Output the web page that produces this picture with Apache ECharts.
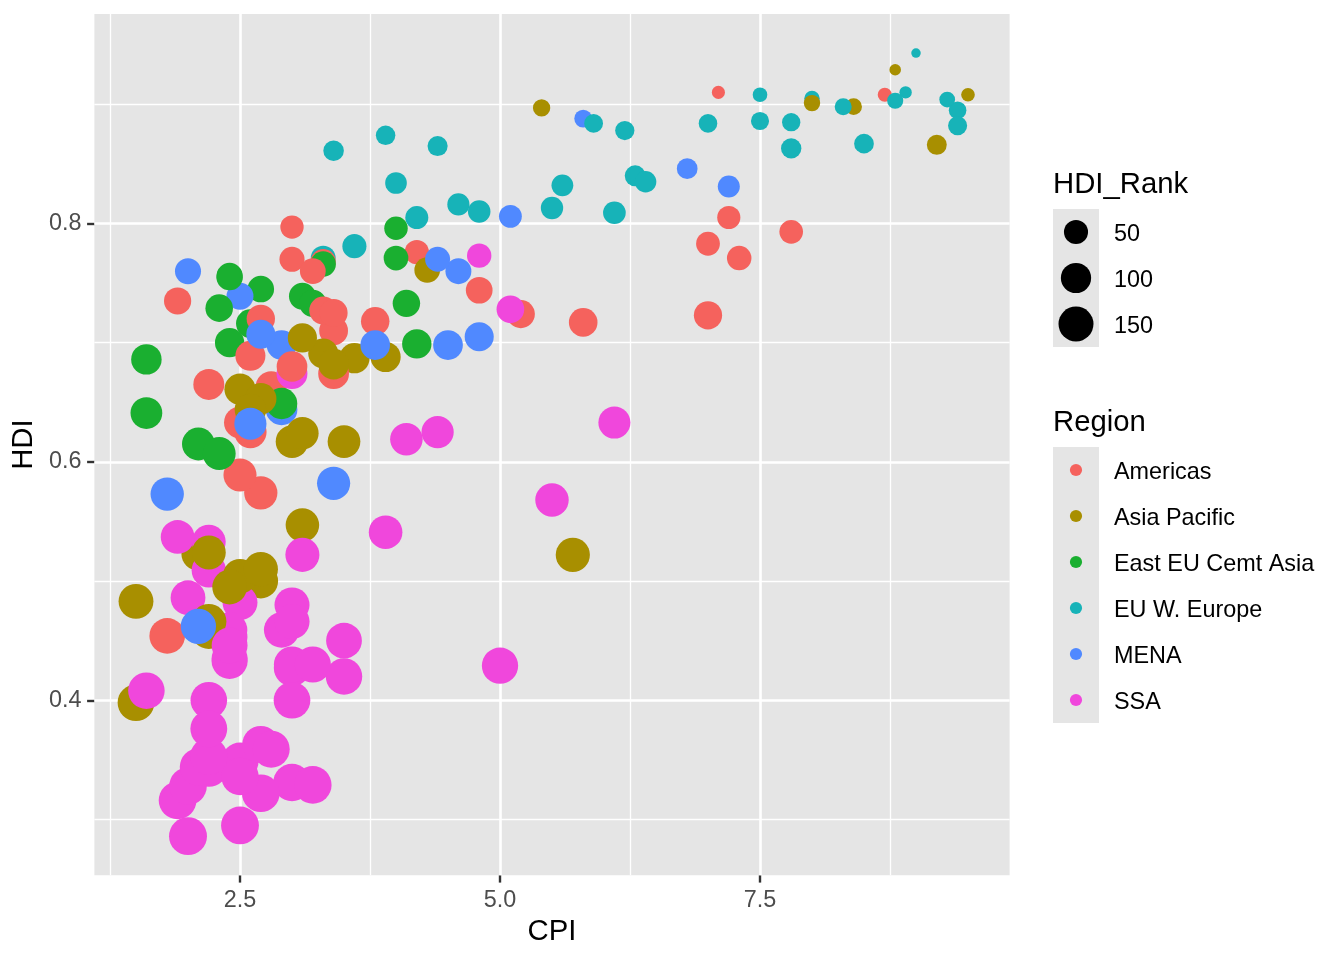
<!DOCTYPE html>
<html>
<head>
<meta charset="utf-8">
<title>CPI vs HDI</title>
<script src="https://cdn.jsdelivr.net/npm/echarts@6/dist/echarts.min.js"></script>
<style>
  html, body { margin: 0; padding: 0; background: #fff; }
  #chart { width: 1344px; height: 960px; }
</style>
</head>
<body>
<div id="chart"></div>
<script>
// data (one entry per country, alphabetical, same order as drawn)
const countries = ['Afghanistan','Albania','Algeria','Angola','Argentina','Armenia','Australia','Austria','Azerbaijan','Bahamas',
  'Bahrain','Bangladesh','Barbados','Belarus','Belgium','Benin','Bhutan','Bolivia','Bosnia and Herzegovina','Botswana',
  'Brazil','Britain','Bulgaria','Burkina Faso','Burundi','Cambodia','Cameroon','Canada','Cape Verde','Central African Republic',
  'Chad','Chile','China','Colombia','Comoros','Congo','Congo Republic','Costa Rica',"Côte d'Ivoire",'Croatia',
  'Cuba','Cyprus','Czech Republic','Denmark','Djibouti','Dominica','Dominican Republic','Ecuador','Egypt','El Salvador',
  'Equatorial Guinea','Eritrea','Estonia','Ethiopia','Finland','France','Gabon','Gambia','Georgia','Germany',
  'Ghana','Greece','Guatemala','Guinea','Guinea-Bissau','Guyana','Haiti','Honduras','Hong Kong','Hungary',
  'Iceland','India','Indonesia','Iran','Iraq','Ireland','Israel','Italy','Jamaica','Japan',
  'Jordan','Kazakhstan','Kenya','Kiribati','Kuwait','Kyrgyzstan','Laos','Latvia','Lebanon','Lesotho',
  'Liberia','Libya','Lithuania','Luxembourg','Madagascar','Malawi','Malaysia','Maldives','Mali','Malta',
  'Mauritania','Mauritius','Mexico','Moldova','Mongolia','Montenegro','Morocco','Mozambique','Myanmar','Namibia',
  'Nepal','Netherlands','New Zealand','Nicaragua','Niger','Nigeria','Norway','Oman','Pakistan','Panama',
  'Papua New Guinea','Paraguay','Peru','Philippines','Poland','Portugal','Qatar','Romania','Russia','Rwanda',
  'Samoa','Saudi Arabia','Senegal','Serbia','Seychelles','Sierra Leone','Singapore','Slovakia','Slovenia','Solomon Islands',
  'South Africa','South Korea','Spain','Sri Lanka','St Lucia','St Vincent and the Grenadines','Sudan','Suriname','Swaziland','Sweden',
  'Switzerland','Syria','Tajikistan','Tanzania','Thailand','Timor-Leste','Togo','Tonga','Trinidad and Tobago','Tunisia',
  'Turkey','Turkmenistan','Uganda','Ukraine','United Arab Emirates','United States','Uruguay','Uzbekistan','Vanuatu','Venezuela',
  'Yemen','Zambia','Zimbabwe']

const cpi = [1.5,3.1,2.9,2.0,3.0,2.6,8.8,7.8,2.4,7.3,
  5.1,2.7,7.8,2.4,7.5,3.0,5.7,2.8,3.2,6.1,
  3.8,7.8,3.3,3.0,1.9,2.1,2.5,8.7,5.5,2.2,
  2.0,7.2,3.6,3.4,2.4,2.2,2.0,4.8,2.2,4.0,
  4.2,6.3,4.4,9.4,3.0,5.2,2.6,2.7,2.9,3.4,
  1.9,2.5,6.4,2.7,9.4,7.0,3.0,3.5,4.1,8.0,
  3.9,3.4,2.7,2.1,2.2,2.5,1.8,2.6,8.4,4.6,
  8.3,3.1,3.0,2.7,1.8,7.5,5.8,3.9,3.3,8.0,
  4.5,2.7,2.2,3.1,4.6,2.1,2.2,4.2,2.5,3.5,
  3.2,2.0,4.8,8.5,3.0,3.0,4.3,2.5,2.8,5.6,
  2.4,5.1,3.0,2.9,2.7,4.0,3.4,2.7,1.5,4.4,
  2.2,8.9,9.5,2.5,2.5,2.4,9.0,4.8,2.5,3.3,
  2.2,2.2,3.4,2.6,5.5,6.1,7.2,3.6,2.4,5.0,
  3.9,4.4,2.9,3.3,4.8,2.5,9.2,4.0,5.9,2.7,
  4.1,5.4,6.2,3.3,7.0,5.8,1.6,3.0,3.1,9.3,
  8.8,2.6,2.3,3.0,3.4,2.4,2.4,3.1,3.2,3.8,
  4.2,1.6,2.4,2.3,6.8,7.1,7.0,1.6,3.5,1.9,
  2.1,3.2,2.2]

const hdi = [0.398,0.739,0.698,0.486,0.797,0.716,0.929,0.885,0.700,0.771,
  0.806,0.500,0.793,0.756,0.886,0.427,0.522,0.663,0.733,0.633,
  0.718,0.863,0.771,0.331,0.316,0.523,0.482,0.908,0.568,0.343,
  0.328,0.805,0.687,0.710,0.433,0.533,0.286,0.744,0.400,0.796,
  0.776,0.840,0.865,0.895,0.430,0.724,0.689,0.720,0.644,0.674,
  0.537,0.349,0.835,0.363,0.882,0.884,0.674,0.420,0.733,0.905,
  0.541,0.861,0.574,0.344,0.353,0.633,0.454,0.625,0.898,0.816,
  0.898,0.547,0.617,0.707,0.573,0.908,0.888,0.874,0.727,0.901,
  0.698,0.745,0.509,0.624,0.760,0.615,0.524,0.805,0.739,0.450,
  0.329,0.760,0.810,0.867,0.480,0.400,0.761,0.661,0.359,0.832,
  0.453,0.728,0.770,0.649,0.653,0.771,0.582,0.322,0.483,0.625,
  0.458,0.910,0.908,0.589,0.295,0.459,0.943,0.705,0.504,0.768,
  0.466,0.665,0.725,0.644,0.813,0.809,0.831,0.781,0.755,0.429,
  0.688,0.770,0.459,0.766,0.773,0.336,0.866,0.834,0.884,0.510,
  0.619,0.897,0.878,0.691,0.723,0.717,0.408,0.680,0.522,0.904,
  0.903,0.632,0.607,0.466,0.682,0.495,0.435,0.704,0.760,0.698,
  0.699,0.686,0.446,0.729,0.846,0.910,0.783,0.641,0.617,0.735,
  0.462,0.430,0.376]

const hdiRank = [172,70,96,148,45,86,2,19,91,53,
  42,146,47,65,18,167,141,108,74,118,
  84,28,55,181,185,139,150,6,133,179,
  183,44,101,87,163,137,187,69,170,46,
  51,31,27,16,165,81,98,83,113,105,
  136,177,34,174,22,20,106,168,75,9,
  135,29,131,178,176,117,158,121,13,38,
  14,134,124,88,132,7,17,24,79,12,
  95,68,143,122,63,126,138,43,71,160,
  182,64,40,25,151,171,61,109,175,36,
  159,77,57,111,110,54,130,184,149,120,
  157,3,5,129,186,156,1,89,145,58,
  153,107,80,112,39,41,37,50,66,166,
  99,56,155,59,52,180,26,35,21,142,
  123,15,23,97,82,85,169,104,140,10,
  11,119,127,152,103,147,162,90,62,94,
  92,102,161,76,30,4,48,115,125,73,
  154,164,173]

// region codes: AM Americas, AP Asia Pacific, EE East EU Cemt Asia, EU EU W. Europe, ME MENA, SS SSA
const region = ['AP','EE','ME','SS','AM','EE','AP','EU','EE','AM',
  'ME','AP','AM','EE','EU','SS','AP','AM','EE','SS',
  'AM','EU','EU','SS','SS','AP','SS','AM','SS','SS',
  'SS','AM','AP','AM','SS','SS','SS','AM','SS','EE',
  'AM','EU','EU','EU','SS','AM','AM','AM','ME','AM',
  'SS','SS','EU','SS','EU','EU','SS','SS','EE','EU',
  'SS','EU','AM','SS','SS','AM','AM','AM','AP','EU',
  'EU','AP','AP','ME','ME','EU','ME','EU','AM','AP',
  'ME','EE','SS','AP','ME','EE','AP','EU','ME','SS',
  'SS','ME','EU','EU','SS','SS','AP','AP','SS','EU',
  'SS','SS','AM','EE','AP','EE','ME','SS','AP','SS',
  'AP','EU','AP','AM','SS','SS','EU','ME','AP','AM',
  'AP','AM','AM','AP','EU','EU','ME','EU','EE','SS',
  'AP','ME','SS','EE','SS','SS','AP','EU','EU','AP',
  'SS','AP','EU','AP','AM','AM','SS','AM','SS','EU',
  'EU','ME','EE','SS','AP','AP','SS','AP','AM','ME',
  'EE','EE','SS','EE','ME','AM','AM','EE','AP','AM',
  'ME','SS','SS']

const regionCodes = ['AM','AP','EE','EU','ME','SS']
const regionNames = ['Americas','Asia Pacific','East EU Cemt Asia','EU W. Europe','MENA','SSA']
const regionColors = ['#F5625D','#A88F00','#1AAF30','#17B3B8','#5089FF','#F047DC']

const xTicks = [2.5, 5.0, 7.5]
const xMinor = [1.25, 3.75, 6.25, 8.75]
const yTicks = [0.4, 0.6, 0.8]
const yMinor = [0.3, 0.5, 0.7, 0.9]
const sizeBreaks = [50, 100, 150]

const FONT = 'Liberation Sans, Arial, Helvetica, sans-serif'
const PANEL = '#E5E5E5'

// ggplot scale_size (area): size 1..6 over the rank range, turned into a pixel diameter
const rankMin = Math.min(...hdiRank)
const rankMax = Math.max(...hdiRank)
const pointDiameter = rank => {
  const size = 1 + 5 * Math.sqrt((rank - rankMin) / (rankMax - rankMin))
  return 5.69 * size + 3.8
}

// plot range = data range expanded by 5% each side
const pad = (lo, hi) => [lo - (hi - lo) * 0.05, hi + (hi - lo) * 0.05]
const [xMin, xMax] = pad(Math.min(...cpi), Math.max(...cpi))
const [yMin, yMax] = pad(Math.min(...hdi), Math.max(...hdi))

const points = countries.map((name, i) => ({
  name,
  value: [cpi[i], hdi[i], hdiRank[i]],
  itemStyle: { color: regionColors[regionCodes.indexOf(region[i])] }
}))

// grid lines are drawn as markLines so they sit exactly on the axis values
const gridLines = [
  ...xMinor.map(v => ({ xAxis: v, lineStyle: { width: 1.3 } })),
  ...yMinor.map(v => ({ yAxis: v, lineStyle: { width: 1.3 } })),
  ...xTicks.map(v => ({ xAxis: v, lineStyle: { width: 2.6 } })),
  ...yTicks.map(v => ({ yAxis: v, lineStyle: { width: 2.6 } }))
]

// legends, ggplot style: title, grey key column, labels
const keyX = 1053, keyW = 46, keyH = 46, labelX = 1114

const legendText = (text, x, y, size) => ({
  type: 'text', x, y, z: 101,
  style: {
    text, font: size + 'px ' + FONT, fill: '#000',
    verticalAlign: 'middle', textVerticalAlign: 'middle'
  }
})

const legendGraphics = []

// size legend
legendGraphics.push(legendText('HDI_Rank', keyX, 184.5, 29.3))
legendGraphics.push({
  type: 'rect', z: 100,
  shape: { x: keyX, y: 209, width: keyW, height: keyH * sizeBreaks.length },
  style: { fill: PANEL }
})
sizeBreaks.forEach((b, i) => {
  const cy = 209 + keyH * i + keyH / 2
  legendGraphics.push({
    type: 'circle', z: 101,
    shape: { cx: keyX + keyW / 2, cy, r: pointDiameter(b) / 2 },
    style: { fill: '#000' }
  })
  legendGraphics.push(legendText(String(b), labelX, cy + 2.5, 23.4))
})

// colour legend
legendGraphics.push(legendText('Region', keyX, 422.5, 29.3))
legendGraphics.push({
  type: 'rect', z: 100,
  shape: { x: keyX, y: 447, width: keyW, height: keyH * regionNames.length },
  style: { fill: PANEL }
})
regionNames.forEach((r, i) => {
  const cy = 447 + keyH * i + keyH / 2
  legendGraphics.push({
    type: 'circle', z: 101,
    shape: { cx: keyX + keyW / 2, cy, r: 6.1 },
    style: { fill: regionColors[i] }
  })
  legendGraphics.push(legendText(r, labelX, cy + 2.5, 23.4))
})

const axisCommon = {
  axisLine: { show: false },
  splitLine: { show: false },
  axisTick: { show: true, length: 7.3, lineStyle: { color: '#333333', width: 2.4 } },
  nameLocation: 'middle',
  nameTextStyle: { fontFamily: FONT, fontSize: 29.3, color: '#000' }
}

const tickLabel = values => ({
  customValues: values, margin: 13,
  formatter: v => v.toFixed(1),
  fontFamily: FONT, fontSize: 23.4, color: '#4D4D4D'
})

const chart = echarts.init(document.getElementById('chart'), null, { renderer: 'canvas' })
chart.setOption({
  animation: false,
  backgroundColor: '#fff',
  grid: {
    left: 94.4, top: 13.9, width: 915.2, height: 861.4,
    show: true, backgroundColor: PANEL, borderWidth: 0
  },
  xAxis: {
    ...axisCommon,
    type: 'value', min: xMin, max: xMax,
    name: 'CPI', nameGap: 40,
    axisTick: { ...axisCommon.axisTick, customValues: xTicks },
    axisLabel: { ...tickLabel(xTicks), margin: 14 }
  },
  yAxis: {
    ...axisCommon,
    type: 'value', min: yMin, max: yMax,
    name: 'HDI', nameGap: 52,
    axisTick: { ...axisCommon.axisTick, customValues: yTicks },
    axisLabel: tickLabel(yTicks)
  },
  graphic: legendGraphics,
  series: [
    {
      // empty series that only carries the grid lines
      type: 'scatter',
      data: [],
      silent: true,
      markLine: {
        silent: true,
        symbol: 'none',
        label: { show: false },
        lineStyle: { color: '#FFFFFF', type: 'solid' },
        emphasis: { disabled: true },
        data: gridLines
      }
    },
    {
      type: 'scatter',
      z: 10,
      data: points,
      symbol: 'circle',
      symbolSize: v => pointDiameter(v[2]),
      itemStyle: { opacity: 1 },
      emphasis: { disabled: true }
    }
  ]
})
</script>
</body>
</html>
